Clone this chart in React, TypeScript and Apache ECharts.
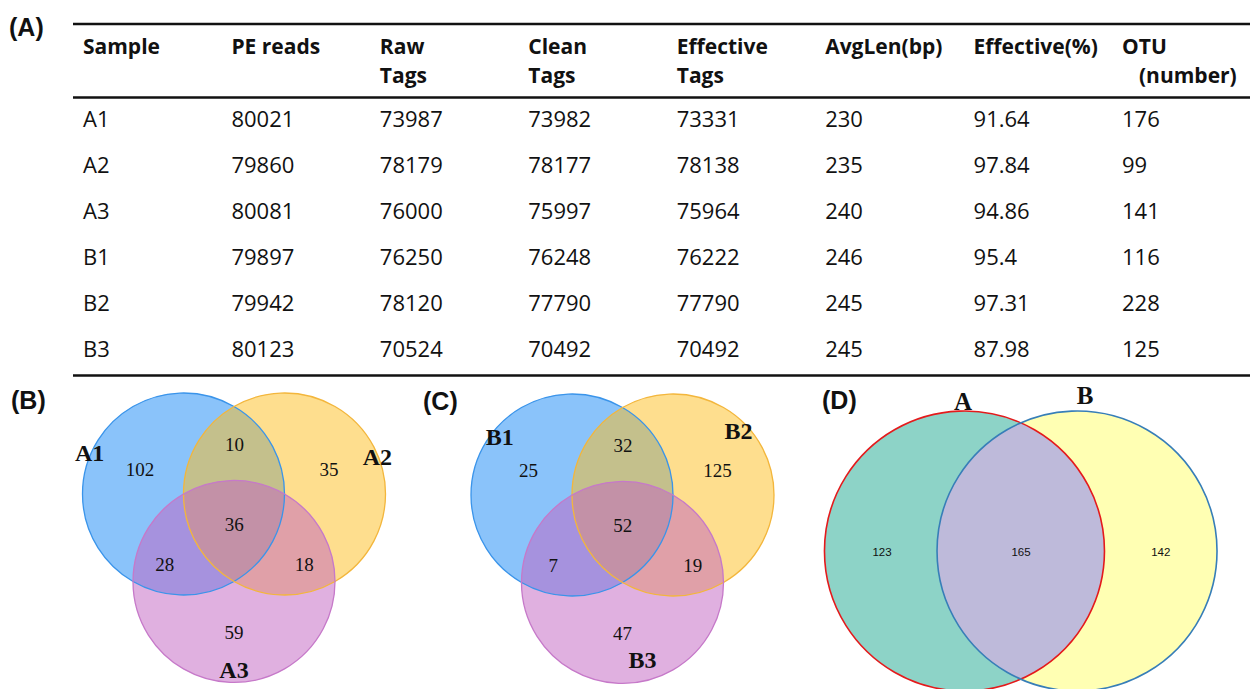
import React, { useEffect, useRef } from "react";
import * as echarts from "echarts";

// ---- (A) sequencing summary table ----
const headerLines: string[][] = [
  ["Sample"],
  ["PE reads"],
  ["Raw", "Tags"],
  ["Clean", "Tags"],
  ["Effective", "Tags"],
  ["AvgLen(bp)"],
  ["Effective(%)"],
  ["OTU", "(number)"],
];
const samples = ["A1", "A2", "A3", "B1", "B2", "B3"];
const peReads = [80021, 79860, 80081, 79897, 79942, 80123];
const rawTags = [73987, 78179, 76000, 76250, 78120, 70524];
const cleanTags = [73982, 78177, 75997, 76248, 77790, 70492];
const effectiveTags = [73331, 78138, 75964, 76222, 77790, 70492];
const avgLen = [230, 235, 240, 246, 245, 245];
const effectivePct = [91.64, 97.84, 94.86, 95.4, 97.31, 87.98];
const otuCount = [176, 99, 141, 116, 228, 125];

// ---- (B)/(C) three-sample Venn counts ----
// region order: only 1, only 2, only 3, 1∩2, 1∩3, 2∩3, 1∩2∩3
const groupANames = ["A1", "A2", "A3"];
const groupACounts = [102, 35, 59, 10, 28, 18, 36];
const groupBNames = ["B1", "B2", "B3"];
const groupBCounts = [25, 125, 47, 32, 7, 19, 52];

// ---- (D) pooled Venn counts ----
// region order: only A, only B, shared
const pooledNames = ["A", "B"];
const pooledCounts = [123, 142, 165];

// ---- layout (axis units = one circle radius) ----
const TRIPLE_CENTERS = [
  [-0.5, 0],
  [0.5, 0],
  [0, 0.866],
];
const TRIPLE_REGION_POS = [
  [-0.93, -0.245],
  [0.94, -0.245],
  [0, 1.371],
  [0.005, -0.49],
  [-0.686, 0.695],
  [0.696, 0.695],
  [0.003, 0.302],
];
const GROUP_A_NAME_POS = [
  [-1.43, -0.41],
  [1.42, -0.366],
  [0, 1.738],
];
const GROUP_B_NAME_POS = [
  [-1.215, -0.57],
  [1.148, -0.634],
  [0.198, 1.634],
];
const PAIR_CENTERS = [
  [-0.402, 0],
  [0.402, 0],
];
const PAIR_REGION_POS = [
  [-0.991, 0.007],
  [1.0, 0.007],
  [0.002, 0.007],
];
const PAIR_NAME_POS = [
  [-0.413, -1.086],
  [0.459, -1.129],
];

const TABLE_HEADER_ROW = -1.565; // first header line, in row units
const HEADER_LINE_GAP = 29;
const HEADER_INDENT: Record<number, number> = { 7: 17 };

const TABLE_FONT = '"Open Sans", "Noto Sans", sans-serif';
const SERIF = '"Liberation Serif", "DejaVu Serif", serif';
const SANS = '"Liberation Sans", Arial, sans-serif';

const TRIPLE_FILL = ["rgba(21,135,245,0.5)", "rgba(253,189,29,0.5)", "rgba(193,97,193,0.5)"];
const TRIPLE_STROKE = ["#3a94ea", "#f3b63c", "#c679c9"];
const PAIR_FILL = ["#8dd3c7", "#ffffb3"];
const PAIR_SHARED_FILL = "#bebada";
const PAIR_STROKE = ["#e41a1c", "#377eb8"];

function txt(x: number, y: number, text: string, size: number, family: string, weight = "normal", align = "center") {
  return {
    type: "text",
    x,
    y,
    style: {
      text,
      fontSize: size,
      fontFamily: family,
      fontWeight: weight,
      fill: "#111",
      align,
      verticalAlign: "middle",
      textAlign: align,
      textVerticalAlign: "middle",
    },
  };
}

function circleSeries(gridIndex: number, centers: number[][], fills: (string | null)[], strokes: (string | null)[], lineWidth: number) {
  return {
    type: "custom",
    coordinateSystem: "cartesian2d",
    xAxisIndex: gridIndex,
    yAxisIndex: gridIndex,
    silent: true,
    clip: false,
    data: centers,
    renderItem: (params: any, api: any) => {
      const c = api.coord([api.value(0), api.value(1)]);
      const r = api.size([1, 0])[0];
      const i = params.dataIndex;
      return {
        type: "circle",
        shape: { cx: c[0], cy: c[1], r },
        style: {
          fill: fills[i] || "none",
          stroke: strokes[i] || "none",
          lineWidth,
        },
      };
    },
  };
}

function labelSeries(gridIndex: number, positions: number[][], texts: string[], size: number, family: string, weight: string) {
  return {
    type: "custom",
    coordinateSystem: "cartesian2d",
    xAxisIndex: gridIndex,
    yAxisIndex: gridIndex,
    silent: true,
    clip: false,
    data: positions,
    renderItem: (params: any, api: any) => {
      const p = api.coord([api.value(0), api.value(1)]);
      return txt(p[0], p[1], texts[params.dataIndex], size, family, weight);
    },
  };
}

function tripleVenn(gridIndex: number, names: string[], counts: number[], namePos: number[][]) {
  return [
    circleSeries(gridIndex, TRIPLE_CENTERS, TRIPLE_FILL, [null, null, null], 0),
    circleSeries(gridIndex, TRIPLE_CENTERS, [null, null, null], TRIPLE_STROKE, 1.3),
    labelSeries(gridIndex, TRIPLE_REGION_POS, counts.map(String), 19, SERIF, "normal"),
    labelSeries(gridIndex, namePos, names, 24, SERIF, "bold"),
  ];
}

function buildOption() {
  const cells: number[][] = [];
  samples.forEach((_, r) => {
    for (let c = 0; c < headerLines.length; c++) cells.push([c, r]);
  });
  const rowText = samples.map((s, i) =>
    [s, peReads[i], rawTags[i], cleanTags[i], effectiveTags[i], avgLen[i], effectivePct[i], otuCount[i]].map(String)
  );

  const tableCells = {
    type: "custom",
    coordinateSystem: "cartesian2d",
    xAxisIndex: 0,
    yAxisIndex: 0,
    silent: true,
    clip: false,
    data: cells,
    renderItem: (params: any, api: any) => {
      const c = api.value(0);
      const r = api.value(1);
      const p = api.coord([c, r]);
      return txt(p[0], p[1], rowText[r][c], 22, TABLE_FONT, "normal", "left");
    },
  };

  const tableHeader = {
    type: "custom",
    coordinateSystem: "cartesian2d",
    xAxisIndex: 0,
    yAxisIndex: 0,
    silent: true,
    clip: false,
    data: headerLines.map((_, c) => [c, TABLE_HEADER_ROW]),
    renderItem: (params: any, api: any) => {
      const c = params.dataIndex;
      const p = api.coord([api.value(0), api.value(1)]);
      return {
        type: "group",
        children: headerLines[c].map((line, k) =>
          txt(p[0] + (k > 0 ? HEADER_INDENT[c] || 0 : 0), p[1] + k * HEADER_LINE_GAP, line, 21, TABLE_FONT, "bold", "left")
        ),
      };
    },
  };

  const pairLens = {
    type: "custom",
    coordinateSystem: "cartesian2d",
    xAxisIndex: 3,
    yAxisIndex: 3,
    silent: true,
    clip: false,
    data: [[0, 0]],
    renderItem: (_params: any, api: any) => {
      const c1 = api.coord(PAIR_CENTERS[0]);
      const c2 = api.coord(PAIR_CENTERS[1]);
      const r = api.size([1, 0])[0];
      const half = (c2[0] - c1[0]) / 2;
      const mx = (c1[0] + c2[0]) / 2;
      const h = Math.sqrt(r * r - half * half);
      const y1 = c1[1] - h;
      const y2 = c1[1] + h;
      const d = `M ${mx} ${y1} A ${r} ${r} 0 0 1 ${mx} ${y2} A ${r} ${r} 0 0 1 ${mx} ${y1} Z`;
      return { type: "path", shape: { pathData: d }, style: { fill: PAIR_SHARED_FILL, stroke: "none" } };
    },
  };

  const rule = (y: number) => ({
    type: "line",
    shape: { x1: 73, y1: y, x2: 1250, y2: y },
    style: { stroke: "#111", lineWidth: 2.6 },
    silent: true,
  });
  const panel = (x: number, y: number, t: string) => txt(x, y, t, 25, SANS, "bold", "left");

  const hidden = { show: false };

  return {
    animation: false,
    backgroundColor: "#fff",
    grid: [
      { left: 83, top: 118, width: 1039, height: 230 },
      { left: 82.5, top: 393, width: 303, height: 292.9 },
      { left: 471, top: 394, width: 303, height: 292.9 },
      { left: 810.75, top: 413, width: 420, height: 280 },
    ],
    xAxis: [
      { gridIndex: 0, type: "value", min: 0, max: 7, ...hidden },
      { gridIndex: 1, type: "value", min: -1.5, max: 1.5, ...hidden },
      { gridIndex: 2, type: "value", min: -1.5, max: 1.5, ...hidden },
      { gridIndex: 3, type: "value", min: -1.5, max: 1.5, ...hidden },
    ],
    yAxis: [
      { gridIndex: 0, type: "value", min: 0, max: 5, inverse: true, ...hidden },
      { gridIndex: 1, type: "value", min: -1, max: 1.9, inverse: true, ...hidden },
      { gridIndex: 2, type: "value", min: -1, max: 1.9, inverse: true, ...hidden },
      { gridIndex: 3, type: "value", min: -1, max: 1, inverse: true, ...hidden },
    ],
    graphic: [
      rule(24),
      rule(97.5),
      rule(375.5),
      panel(9, 27, "(A)"),
      panel(11, 400, "(B)"),
      panel(423, 401, "(C)"),
      panel(822, 400, "(D)"),
    ],
    series: [
      tableHeader,
      tableCells,
      ...tripleVenn(1, groupANames, groupACounts, GROUP_A_NAME_POS),
      ...tripleVenn(2, groupBNames, groupBCounts, GROUP_B_NAME_POS),
      circleSeries(3, PAIR_CENTERS, PAIR_FILL, [null, null], 0),
      pairLens,
      circleSeries(3, PAIR_CENTERS, [null, null], PAIR_STROKE, 1.6),
      labelSeries(3, PAIR_REGION_POS, pooledCounts.map(String), 11.5, SANS, "normal"),
      labelSeries(3, PAIR_NAME_POS, pooledNames, 25, SERIF, "bold"),
    ],
  };
}

export default function App() {
  const ref = useRef<HTMLDivElement>(null);
  useEffect(() => {
    const chart = echarts.init(ref.current!, null, { renderer: "svg" });
    chart.setOption(buildOption() as any);
    return () => chart.dispose();
  }, []);
  return (
    <div
      ref={ref}
      style={{ position: "absolute", left: 0, top: 0, width: 1250, height: 689, background: "#fff" }}
    />
  );
}
